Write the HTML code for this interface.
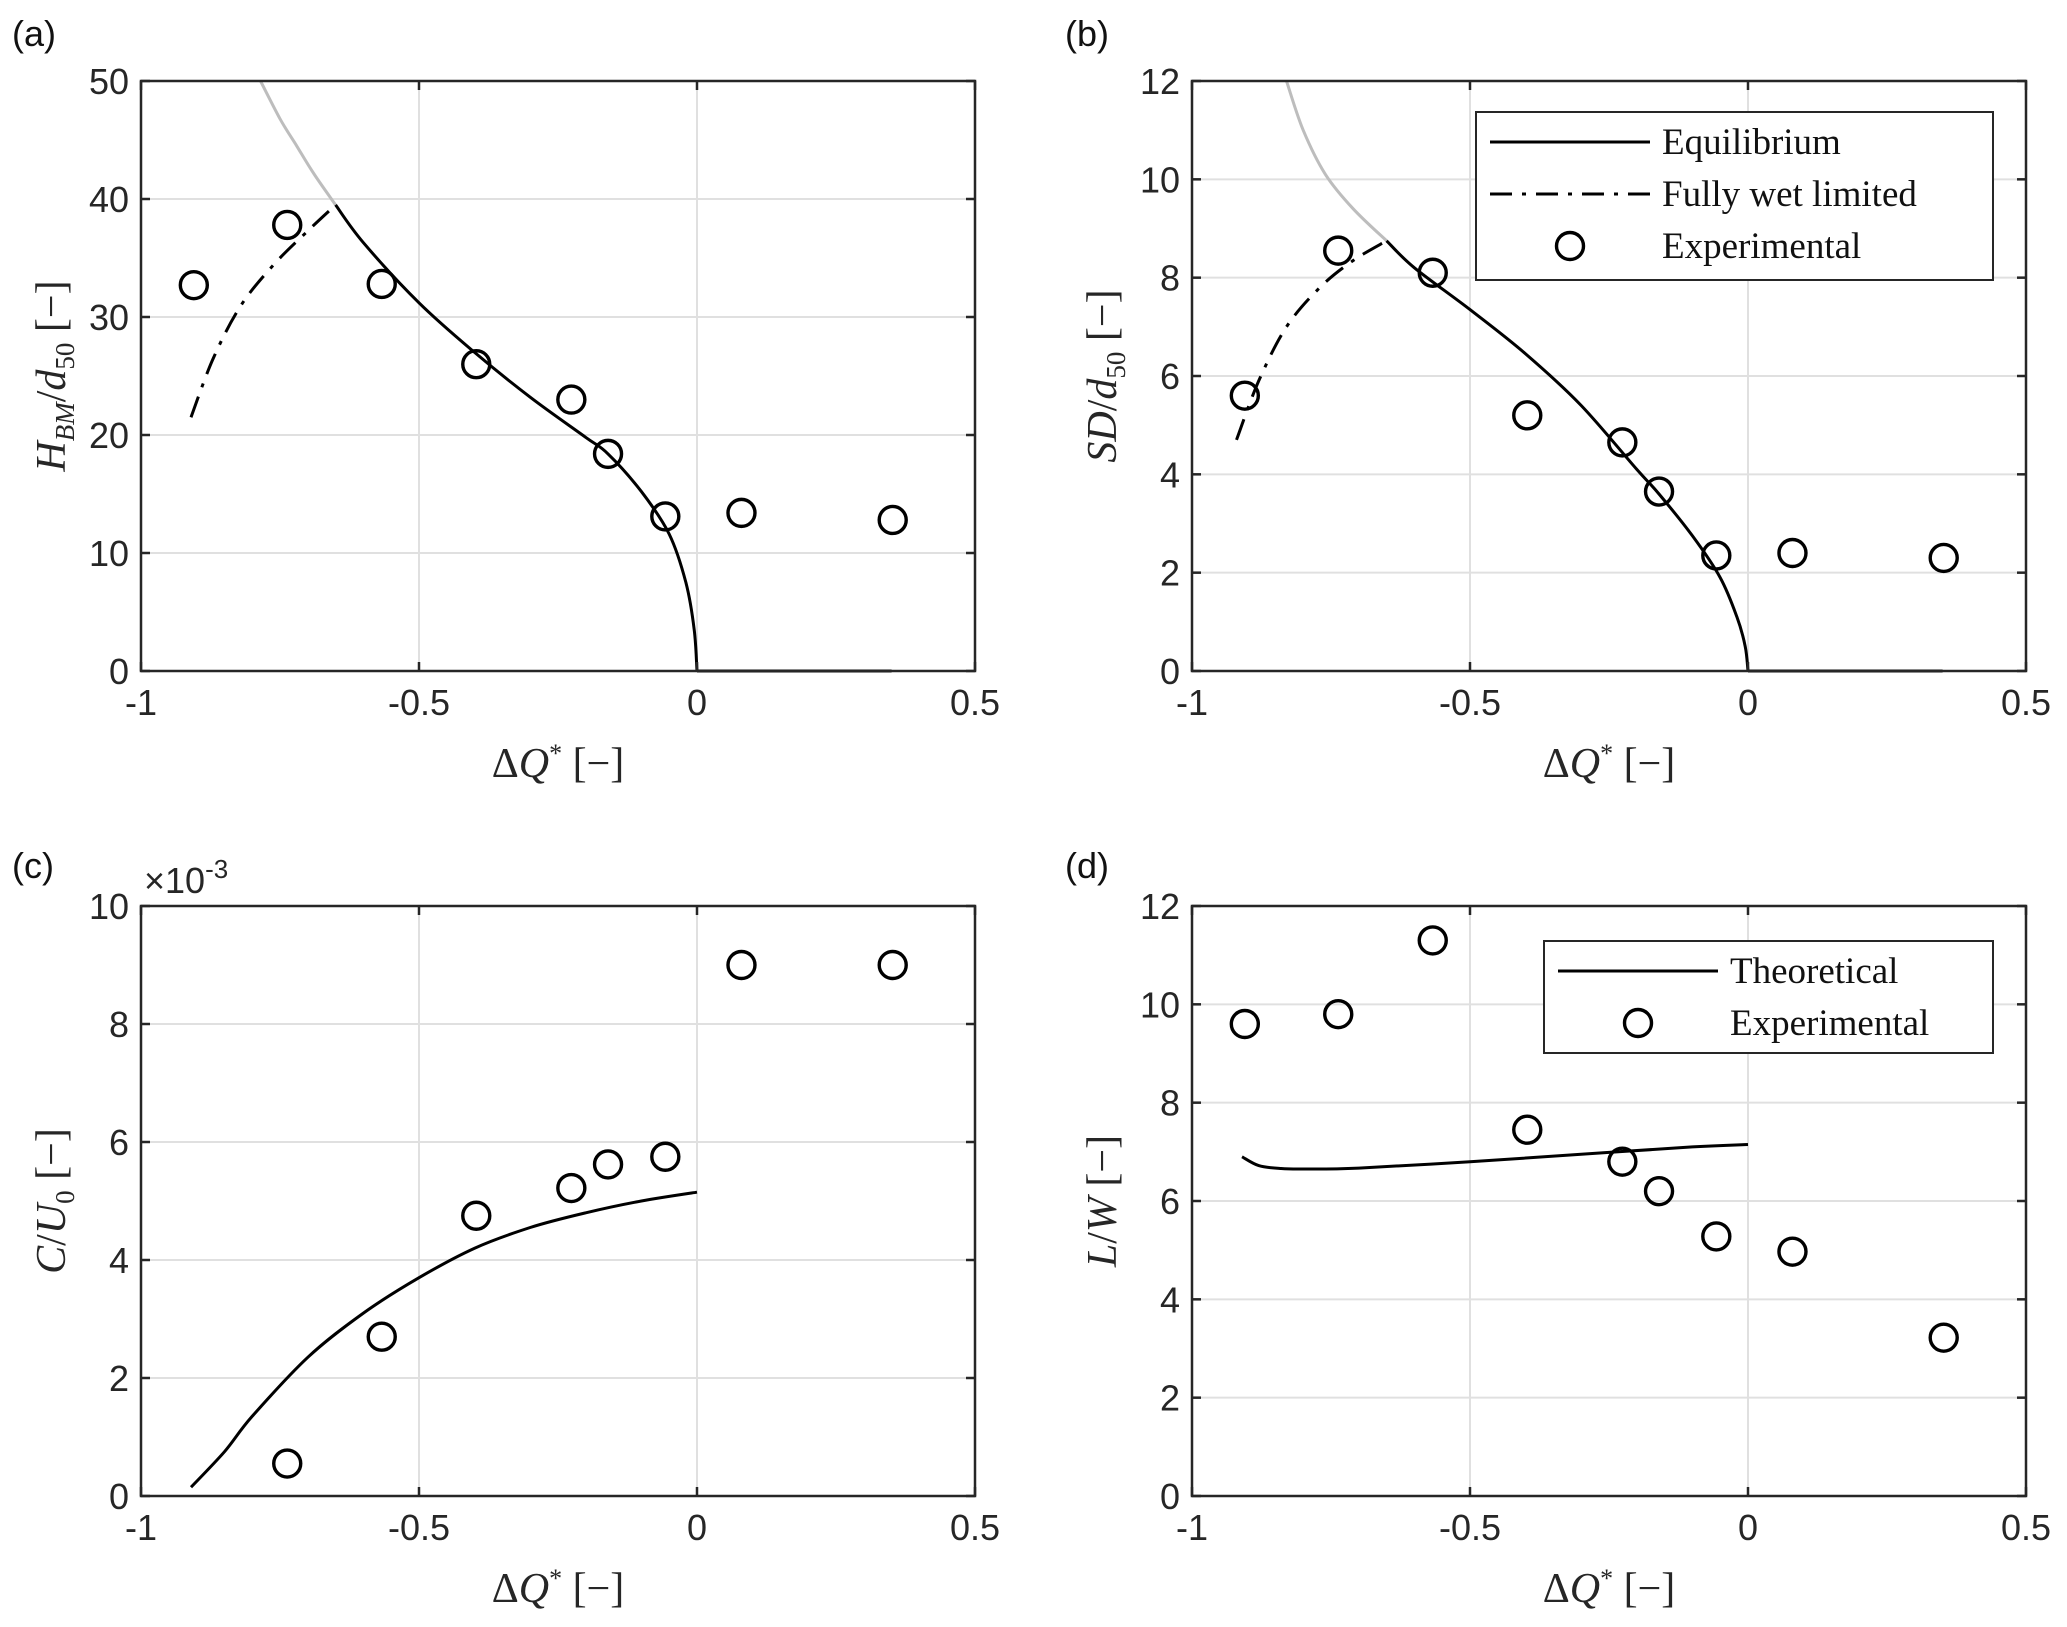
<!DOCTYPE html>
<html><head><meta charset="utf-8"><style>
html,body{margin:0;padding:0;background:#fff;}
svg{display:block;}
.tick{font-family:"Liberation Sans",sans-serif;font-size:36px;fill:#262626;}
.lab{font-family:"Liberation Serif",serif;font-size:42px;fill:#262626;}
.leg{font-family:"Liberation Serif",serif;font-size:37px;fill:#111;}
.pan{font-family:"Liberation Sans",sans-serif;font-size:36px;fill:#111;}
</style></head><body>
<svg id="fig" width="2067" height="1627" viewBox="0 0 2067 1627" xmlns="http://www.w3.org/2000/svg"></svg>
<script>
const expX = [-0.905, -0.737, -0.567, -0.397, -0.226, -0.16, -0.057, 0.08, 0.352];
const aExp = [32.7, 37.8, 32.8, 26, 23, 18.4, 13.1, 13.4, 12.8];
const bExp = [5.6, 8.55, 8.1, 5.2, 4.65, 3.65, 2.35, 2.4, 2.3];
const cExpX = [-0.737, -0.567, -0.397, -0.226, -0.16, -0.057, 0.08, 0.352];
const cExp = [0.55, 2.7, 4.75, 5.22, 5.62, 5.75, 9.0, 9.0];
const dExp = [9.6, 9.8, 11.3, 7.45, 6.8, 6.2, 5.28, 4.97, 3.22];

const eqX = [-0.65, -0.6, -0.5, -0.4, -0.3, -0.2, -0.16, -0.1, -0.05, -0.02, -0.005, 0];
const aEq = [39.5, 36.3, 31.2, 27.0, 23.2, 19.8, 18.4, 15.2, 11.6, 7.5, 3.5, 0];
const bEq = [8.75, 8.2, 7.35, 6.45, 5.4, 4.1, 3.6, 2.75, 1.9, 1.1, 0.5, 0];
const flatX = [0, 0.35];
const flatY = [0, 0];
const aGrayX = [-0.785, -0.75, -0.72, -0.69, -0.65];
const aGray = [50, 46.8, 44.5, 42.2, 39.5];
const bGrayX = [-0.83, -0.8, -0.76, -0.71, -0.65];
const bGray = [12, 11.0, 10.1, 9.4, 8.75];
const aDashX = [-0.91, -0.87, -0.82, -0.76, -0.7, -0.65];
const aDash = [21.5, 26.5, 31.0, 34.5, 37.3, 39.5];
const bDashX = [-0.92, -0.88, -0.83, -0.77, -0.71, -0.65];
const bDash = [4.7, 5.9, 7.0, 7.8, 8.35, 8.75];
const cThX = [-0.91, -0.85, -0.8, -0.7, -0.6, -0.5, -0.4, -0.3, -0.2, -0.1, 0];
const cTh = [0.15, 0.75, 1.35, 2.35, 3.1, 3.7, 4.2, 4.55, 4.8, 5.0, 5.15];
const dThX = [-0.91, -0.88, -0.84, -0.8, -0.7, -0.5, -0.3, -0.1, 0];
const dTh = [6.9, 6.72, 6.66, 6.65, 6.67, 6.8, 6.95, 7.1, 7.15];

const xTicks = [-1, -0.5, 0, 0.5];
const xTickLabels = ['-1', '-0.5', '0', '0.5'];
const aTicks = [0, 10, 20, 30, 40, 50];
const bTicks = [0, 2, 4, 6, 8, 10, 12];
const cTicks = [0, 2, 4, 6, 8, 10];
const dTicks = [0, 2, 4, 6, 8, 10, 12];

const NS = 'http://www.w3.org/2000/svg';
const svg = document.getElementById('fig');
function mk(tag, attrs, parent, text) {
  const e = document.createElementNS(NS, tag);
  for (const k in attrs) e.setAttribute(k, attrs[k]);
  if (text !== undefined) e.textContent = text;
  (parent || svg).appendChild(e);
  return e;
}
function smooth(P) {
  if (P.length < 3) return 'M' + P.map(p => p[0].toFixed(1) + ' ' + p[1].toFixed(1)).join(' L');
  let d = 'M' + P[0][0].toFixed(1) + ' ' + P[0][1].toFixed(1);
  for (let i = 0; i < P.length - 1; i++) {
    const p0 = P[Math.max(0, i - 1)], p1 = P[i], p2 = P[i + 1], p3 = P[Math.min(P.length - 1, i + 2)];
    const c1 = [p1[0] + (p2[0] - p0[0]) / 6, p1[1] + (p2[1] - p0[1]) / 6];
    const c2 = [p2[0] - (p3[0] - p1[0]) / 6, p2[1] - (p3[1] - p1[1]) / 6];
    d += ` C${c1[0].toFixed(1)} ${c1[1].toFixed(1)} ${c2[0].toFixed(1)} ${c2[1].toFixed(1)} ${p2[0].toFixed(1)} ${p2[1].toFixed(1)}`;
  }
  return d;
}

function panel(opt) {
  const g = mk('g', {});
  
  
  const L = opt.x0, R = opt.x1, T = opt.y0, B = opt.y1;
  const sx = v => L + (v + 1) / 1.5 * (R - L);
  const sy = v => B - v / opt.ymax * (B - T);
  xTicks.forEach(t => {
    const l = mk('line', {x1: sx(t), x2: sx(t), y1: T, y2: B, stroke: '#e0e0e0', 'stroke-width': 2}, g);
    
    
  });
  opt.yTicks.forEach(t => {
    const l = mk('line', {x1: L, x2: R, y1: sy(t), y2: sy(t), stroke: '#e0e0e0', 'stroke-width': 2}, g);
    
    
  });
  function line(xs, ys, style, nm) {
    const d = smooth(xs.map((x, i) => [sx(x), sy(ys[i])]));
    const p = mk('path', Object.assign({d: d, fill: 'none', 'stroke-linejoin': 'round'}, style), g);
    
    
  }
  (opt.lines || []).forEach(l => line(l.x, l.y, l.style, l.name));
  opt.pts.x.forEach((x, i) => {
    const c = mk('circle', {cx: sx(x), cy: sy(opt.pts.y[i]), r: 13.5, fill: 'none', stroke: '#000', 'stroke-width': 3.4}, g);
    
    
  });
  const bx = mk('rect', {x: L, y: T, width: R - L, height: B - T, fill: 'none', stroke: '#262626', 'stroke-width': 2.5}, g);
  
  
  xTicks.forEach((t, i) => {
    mk('line', {x1: sx(t), x2: sx(t), y1: B, y2: B - 9, stroke: '#262626', 'stroke-width': 2.5}, g);
    mk('line', {x1: sx(t), x2: sx(t), y1: T, y2: T + 9, stroke: '#262626', 'stroke-width': 2.5}, g);
    const tx = mk('text', {x: sx(t), y: B + 44, 'text-anchor': 'middle', class: 'tick'}, g, xTickLabels[i]);
    
    
  });
  opt.yTicks.forEach(t => {
    mk('line', {x1: L, x2: L + 9, y1: sy(t), y2: sy(t), stroke: '#262626', 'stroke-width': 2.5}, g);
    mk('line', {x1: R, x2: R - 9, y1: sy(t), y2: sy(t), stroke: '#262626', 'stroke-width': 2.5}, g);
    const tx = mk('text', {x: L - 12, y: sy(t) + 13, 'text-anchor': 'end', class: 'tick'}, g, String(t));
    
    
  });
  const xl = mk('text', {x: (L + R) / 2, y: B + 106, 'text-anchor': 'middle', class: 'lab'}, g);
  
  
  xl.innerHTML = 'Δ<tspan font-style="italic">Q</tspan><tspan font-size="26" dy="-15">*</tspan><tspan dy="15"> [−]</tspan>';
  const yl = mk('text', {transform: `translate(${L - 76},${(T + B) / 2}) rotate(-90)`, 'text-anchor': 'middle', class: 'lab'}, g);
  
  
  yl.innerHTML = opt.ylab;
  const pl = mk('text', {x: opt.px, y: opt.py, class: 'pan'}, g, opt.plabel);
  
  
  return {g, sx, sy};
}

const eqStyle = {stroke: '#000', 'stroke-width': 3};
const grayStyle = {stroke: '#bdbdbd', 'stroke-width': 3};
const dashStyle = {stroke: '#000', 'stroke-width': 3, 'stroke-dasharray': '22 10 4 10'};

panel({name: 'panel-a', x0: 141, x1: 975, y0: 81, y1: 671, ymax: 50, yTicks: aTicks,
  pts: {x: expX, y: aExp}, plabel: '(a)', px: 12, py: 46,
  ylab: '<tspan font-style="italic">H</tspan><tspan font-style="italic" font-size="27" dy="9">BM</tspan><tspan dy="-9">/</tspan><tspan font-style="italic">d</tspan><tspan font-size="27" dy="9">50</tspan><tspan dy="-9"> [−]</tspan>',
  lines: [{x: aGrayX, y: aGray, style: grayStyle, name: 'unstable-branch'},
          {x: eqX, y: aEq, style: eqStyle, name: 'equilibrium-line'},
          {x: flatX, y: flatY, style: eqStyle, name: 'equilibrium-zero-line'},
          {x: aDashX, y: aDash, style: dashStyle, name: 'fully-wet-limited-line'}]});
panel({name: 'panel-b', x0: 1192, x1: 2026, y0: 81, y1: 671, ymax: 12, yTicks: bTicks,
  pts: {x: expX, y: bExp}, plabel: '(b)', px: 1065, py: 46,
  ylab: '<tspan font-style="italic">SD</tspan>/<tspan font-style="italic">d</tspan><tspan font-size="27" dy="9">50</tspan><tspan dy="-9"> [−]</tspan>',
  lines: [{x: bGrayX, y: bGray, style: grayStyle, name: 'unstable-branch'},
          {x: eqX, y: bEq, style: eqStyle, name: 'equilibrium-line'},
          {x: flatX, y: flatY, style: eqStyle, name: 'equilibrium-zero-line'},
          {x: bDashX, y: bDash, style: dashStyle, name: 'fully-wet-limited-line'}]});
panel({name: 'panel-c', x0: 141, x1: 975, y0: 906, y1: 1496, ymax: 10, yTicks: cTicks,
  pts: {x: cExpX, y: cExp}, plabel: '(c)', px: 12, py: 878,
  ylab: '<tspan font-style="italic">C</tspan>/<tspan font-style="italic">U</tspan><tspan font-size="27" dy="9">0</tspan><tspan dy="-9"> [−]</tspan>',
  lines: [{x: cThX, y: cTh, style: eqStyle, name: 'theoretical-line'}]});
panel({name: 'panel-d', x0: 1192, x1: 2026, y0: 906, y1: 1496, ymax: 12, yTicks: dTicks,
  pts: {x: expX, y: dExp}, plabel: '(d)', px: 1065, py: 878,
  ylab: '<tspan font-style="italic">L</tspan>/<tspan font-style="italic">W</tspan> [−]',
  lines: [{x: dThX, y: dTh, style: eqStyle, name: 'theoretical-line'}]});

const ex = mk('text', {x: 144, y: 893, class: 'tick'});


ex.innerHTML = '×10<tspan font-size="26" dy="-15">-3</tspan>';

function legend(nm, x, y, w, h, items) {
  const g = mk('g', {});
  
  
  mk('rect', {x, y, width: w, height: h, fill: '#fff', stroke: '#262626', 'stroke-width': 2}, g);
  items.forEach((it, i) => {
    const cy = y + 30 + i * 52;
    if (it.kind === 'circle') mk('circle', {cx: x + 94, cy, r: 13.5, fill: 'none', stroke: '#000', 'stroke-width': 3.4}, g);
    else mk('line', Object.assign({x1: x + 14, x2: x + 174, y1: cy, y2: cy}, it.style), g);
    const t = mk('text', {x: x + 186, y: cy + 12, class: 'leg'}, g, it.label);
    
    
  });
}
legend('legend-b', 1476, 112, 517, 168, [
  {kind: 'line', style: eqStyle, label: 'Equilibrium'},
  {kind: 'line', style: dashStyle, label: 'Fully wet limited'},
  {kind: 'circle', label: 'Experimental'}]);
legend('legend-d', 1544, 941, 449, 112, [
  {kind: 'line', style: eqStyle, label: 'Theoretical'},
  {kind: 'circle', label: 'Experimental'}]);
</script>
</body></html>
